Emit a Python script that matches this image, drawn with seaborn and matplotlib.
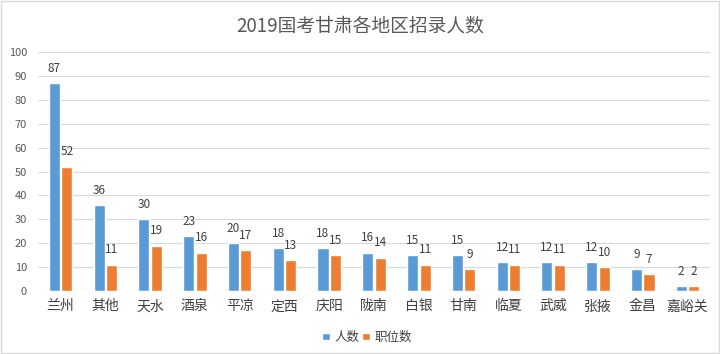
import matplotlib
matplotlib.use("Agg")
import matplotlib.pyplot as plt
import seaborn as sns
import pandas as pd

categories = ["兰州", "其他", "天水", "酒泉", "平凉", "定西", "庆阳", "陇南",
              "白银", "甘南", "临夏", "武威", "张掖", "金昌", "嘉峪关"]
people = [87, 36, 30, 23, 20, 18, 18, 16, 15, 15, 12, 12, 12, 9, 2]
positions = [52, 11, 19, 16, 17, 13, 15, 14, 11, 9, 11, 11, 10, 7, 2]
series_names = ["人数", "职位数"]
yticks = list(range(0, 101, 10))

sns.set_theme(style="white")
plt.rcParams["font.family"] = ["Noto Sans CJK SC", "DejaVu Sans"]

df = pd.DataFrame({
    "地区": categories * 2,
    "值": people + positions,
    "系列": [series_names[0]] * len(categories) + [series_names[1]] * len(categories),
})

fig = plt.figure(figsize=(7.2, 3.54), dpi=100)
ax = fig.add_axes([0.053, 0.178, 0.933, 0.675])
palette = {series_names[0]: "#5B9BD5", series_names[1]: "#ED7D31"}
sns.barplot(data=df, x="地区", y="值", hue="系列", palette=palette, ax=ax,
            width=0.56, gap=0.12, saturation=1, legend=True)

ax.set_ylim(0, 100)
ax.set_yticks(yticks)
ax.yaxis.grid(True, color="#D9D9D9", linewidth=0.8)
ax.set_axisbelow(True)
for s in ax.spines.values():
    s.set_visible(False)
ax.set_xlabel("")
ax.set_ylabel("")
ax.tick_params(axis="y", labelsize=8, colors="#595959", length=0, pad=8)
ax.tick_params(axis="x", labelsize=10, colors="#404040", length=0, pad=6)
ax.axhline(0, color="#D9D9D9", linewidth=0.8)

for cont in ax.containers:
    ax.bar_label(cont, padding=6, fontsize=8.5, color="#404040")

ax.legend(loc="upper center", bbox_to_anchor=(0.49, -0.12), ncol=2, frameon=False,
          fontsize=9, handlelength=0.6, handleheight=0.6, handletextpad=0.4,
          columnspacing=0.2, labelcolor="#404040")

fig.suptitle("2019国考甘肃各地区招录人数", y=0.955, fontsize=13.5, color="#595959")

fig.patches.append(plt.Rectangle((0.002, 0.002), 0.996, 0.996, transform=fig.transFigure,
                                 fill=False, edgecolor="#D9D9D9", linewidth=1))
fig.savefig("out.png", dpi=100)
